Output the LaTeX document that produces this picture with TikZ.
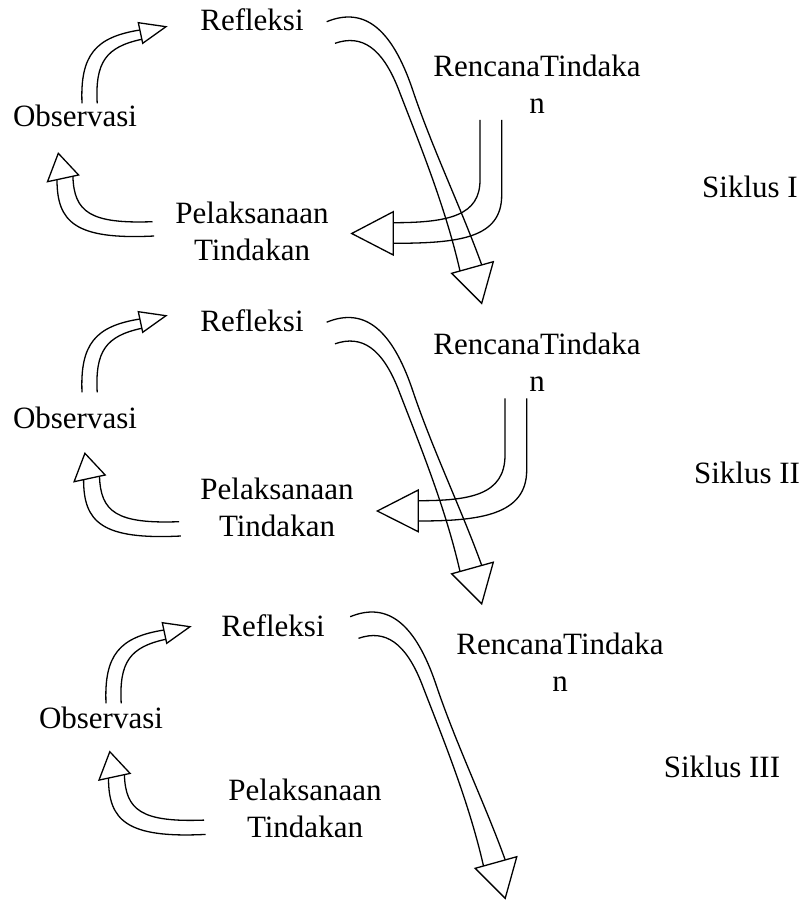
\documentclass[tikz,border=0pt]{standalone}
\usepackage{fontspec}
\setmainfont{Liberation Serif}
\newcommand\myArrA{%
 \draw[blk] (82,103.3) .. controls (80,55) and (95.5,37) .. (140,30);
 \draw[blk] (97.2,103.3) .. controls (95,62) and (106,47) .. (141.7,39.3);
 \draw[blk] (138.3,22.7) -- (166,26.7) -- (142.7,43.3) -- cycle;}
\newcommand\myArrB{%
 \draw[blk] (152.5,221.7) .. controls (90,224) and (74,212) .. (72.9,176.2);
 \draw[blk] (154.2,236) .. controls (75,240) and (57,222) .. (57,179.7);
 \draw[blk] (47.5,181.7) -- (58.3,153.3) -- (78.6,175) -- cycle;}
\newcommand\myArrD{%
 \draw[blk] (326.7,21.7) .. controls (365,6) and (392,30) .. (412,88) .. controls (432,148) and (462,210) .. (481.7,264.9);
 \draw[blk] (335,43.3) .. controls (362,34) and (382,48) .. (398,88) .. controls (418,140) and (445,205) .. (460,271);
 \draw[blk] (451.7,273.3) -- (481.7,303.3) -- (493.3,261.7) -- cycle;}
\begin{document}
\begin{tikzpicture}[x=1pt,y=-1pt,
  blk/.style={line width=1.3pt, line join=miter, line cap=butt},
  lbl/.style={font=\fontsize{31}{37}\selectfont, inner sep=0pt, align=center, anchor=base}]
\useasboundingbox (0,0) rectangle (810,901);
\fill[white] (0,0) rectangle (810,901);

% ---------- Siklus I ----------
\node[lbl] (ref1) at (252,31) {Refleksi};
\node[lbl] (obs1) at (75,126.5) {Observasi};
\node[lbl] (pel1) at (252,260) {Pelaksanaan\\Tindakan};
\node[lbl] (ren1) at (537,114) {RencanaTindaka\\n};
\node[lbl] (sik1) at (750,198) {Siklus I};
\myArrA
\myArrB
\myArrD
\draw[blk] (480,120) -- (480,180) .. controls (480,215) and (450,222.7) .. (393.3,222.7);
\draw[blk] (501.7,120) -- (501.7,195) .. controls (501.7,238) and (460,243.3) .. (393.3,243.3);
\draw[blk] (393.3,211.7) -- (351.7,233.5) -- (393.3,255) -- cycle;

% ---------- Siklus II ----------
\node[lbl] (ref2) at (252,331) {Refleksi};
\node[lbl] (obs2) at (75,428) {Observasi};
\node[lbl] (pel2) at (277,536) {Pelaksanaan\\Tindakan};
\node[lbl] (ren2) at (537,391) {RencanaTindaka\\n};
\node[lbl] (sik2) at (747,483) {Siklus II};
\begin{scope}[shift={(0,289)}]\myArrA\end{scope}
\begin{scope}[shift={(26.6,300)}]\myArrB\end{scope}
\begin{scope}[shift={(0,300.5)}]\myArrD\end{scope}
\draw[blk] (505,398.3) -- (505,455) .. controls (505,495) and (470,500.7) .. (418.3,500.7);
\draw[blk] (526.7,398.3) -- (526.7,470) .. controls (526.7,515) and (480,521) .. (418.3,521);
\draw[blk] (418.3,490) -- (377.3,511) -- (418.3,531.7) -- cycle;

% ---------- Siklus III ----------
\node[lbl] (ref3) at (273,636) {Refleksi};
\node[lbl] (obs3) at (101,728) {Observasi};
\node[lbl] (pel3) at (305,837) {Pelaksanaan\\Tindakan};
\node[lbl] (ren3) at (560,691) {RencanaTindaka\\n};
\node[lbl] (sik3) at (722,777) {Siklus III};
\begin{scope}[shift={(24,600)}]\myArrA\end{scope}
\begin{scope}[shift={(51.5,598.4)}]\myArrB\end{scope}
\begin{scope}[shift={(23.5,595)}]\myArrD\end{scope}
\end{tikzpicture}
\end{document}
